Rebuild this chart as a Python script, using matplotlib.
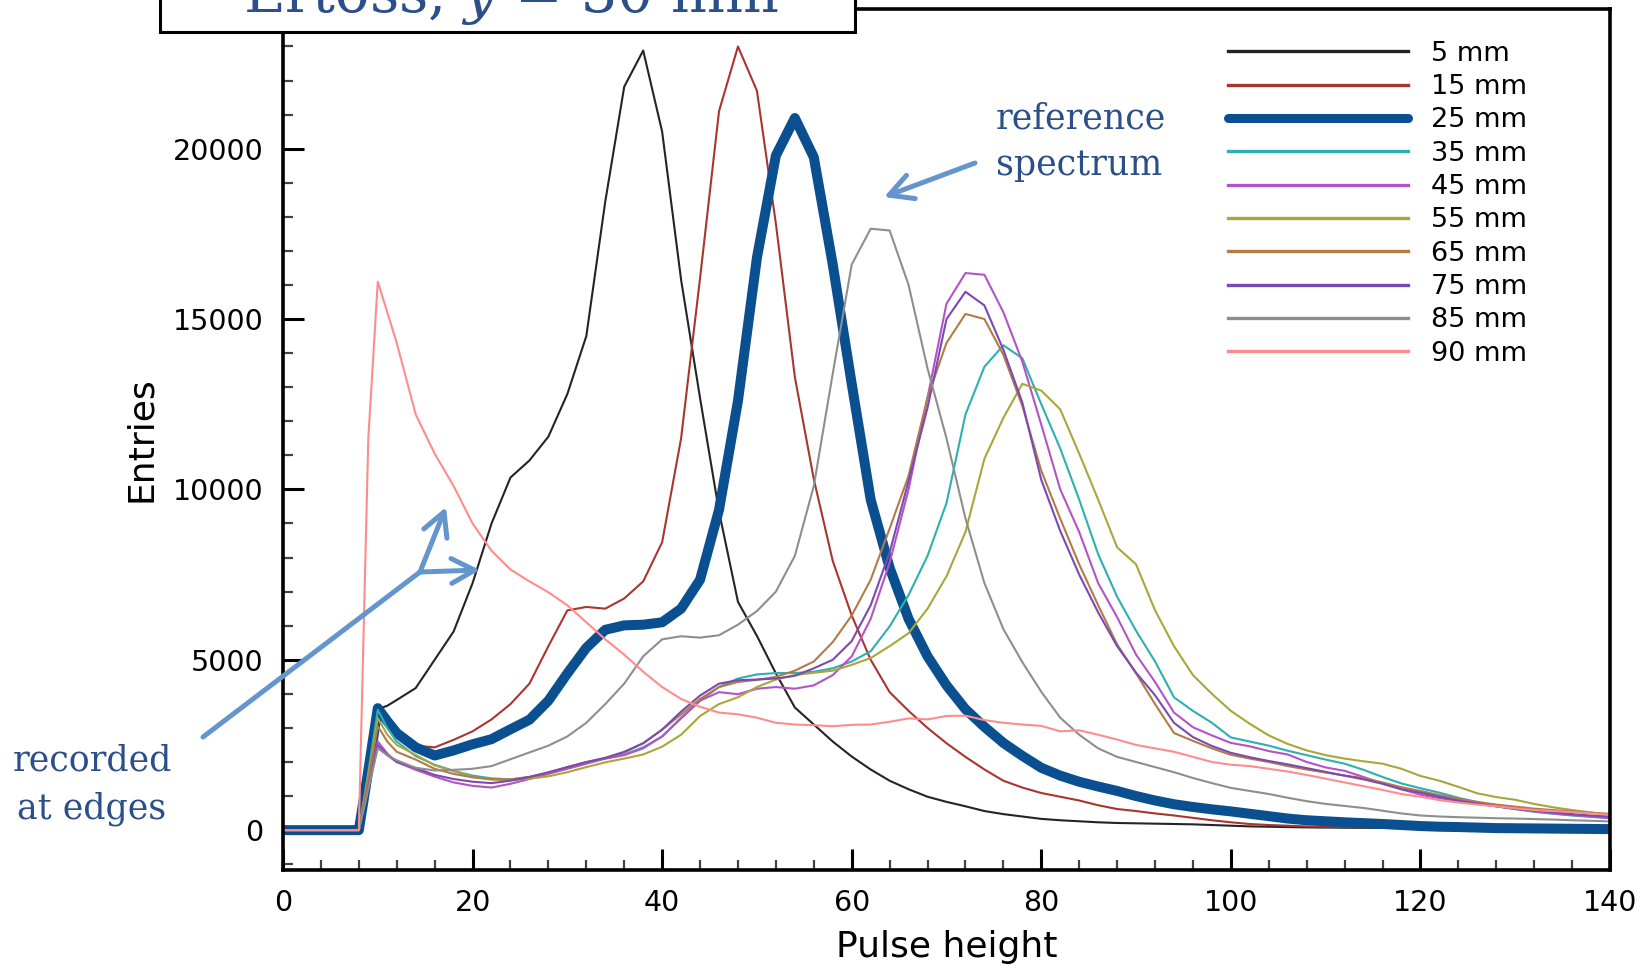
import numpy as np
import matplotlib
matplotlib.use("Agg")
import matplotlib.pyplot as plt
from matplotlib.patches import Rectangle
from matplotlib.ticker import MultipleLocator

plt.rcParams['mathtext.fontset'] = 'dejavuserif'

# pulse-height bins (shared x grid)
pulse = [0, 8, 9, 10, 11] + list(range(12, 141, 2))

# entries per curve
counts_5mm = [0, 0, 1700, 3550, 3650,
              3820, 4170, 5000, 5830, 7250, 9000, 10350, 10850, 11550, 12800,
              14500, 18450, 21820, 22880, 20500, 16150, 12680, 9350, 6700, 5700,
              4600, 3600, 3100, 2600, 2160, 1780, 1450, 1200, 980, 830,
              700, 560, 470, 400, 330, 290, 260, 230, 210, 200,
              190, 180, 170, 150, 130, 110, 100, 90, 80, 75,
              70, 68, 65, 62, 60, 57, 55, 52, 50, 48,
              45, 42, 40, 38, 35]
counts_15mm = [0, 0, 1650, 3400, 3100,
               2850, 2480, 2430, 2650, 2900, 3250, 3700, 4300, 5400, 6450,
               6550, 6500, 6800, 7300, 8450, 11500, 16200, 21100, 23000, 21700,
               17800, 13300, 10300, 7900, 6300, 5000, 4050, 3500, 3000, 2550,
               2150, 1780, 1450, 1250, 1090, 980, 870, 730, 620, 560,
               490, 430, 360, 290, 230, 180, 150, 130, 110, 100,
               95, 90, 85, 80, 75, 70, 65, 60, 55, 50,
               48, 45, 42, 40, 38]
counts_25mm = [0, 0, 1750, 3580, 3200,
               2850, 2430, 2190, 2340, 2520, 2670, 2960, 3240, 3800, 4600,
               5350, 5880, 6010, 6030, 6100, 6500, 7350, 9400, 12600, 16800,
               19800, 20900, 19750, 16600, 13100, 9700, 7700, 6200, 5100, 4250,
               3550, 3030, 2560, 2180, 1830, 1600, 1420, 1280, 1150, 1000,
               870, 760, 680, 610, 550, 480, 410, 340, 290, 260,
               230, 205, 180, 150, 120, 100, 90, 75, 60, 55,
               50, 45, 40, 35, 30]
counts_35mm = [0, 0, 1700, 3530, 3000,
               2600, 2170, 1920, 1740, 1600, 1520, 1490, 1560, 1670, 1820,
               1980, 2100, 2220, 2430, 2750, 3300, 3800, 4200, 4450, 4570,
               4610, 4610, 4650, 4750, 4950, 5250, 5980, 6900, 8050, 9600,
               12200, 13600, 14230, 13850, 12500, 11200, 9700, 8100, 6850, 5850,
               4950, 3900, 3500, 3150, 2720, 2600, 2480, 2330, 2200, 2070,
               1950, 1770, 1560, 1370, 1230, 1100, 950, 820, 700, 620,
               540, 480, 430, 390, 350]
counts_45mm = [0, 0, 1300, 2600, 2250,
               2000, 1770, 1570, 1400, 1300, 1250, 1360, 1500, 1650, 1800,
               1950, 2100, 2200, 2400, 2750, 3280, 3800, 4050, 3990, 4150,
               4200, 4150, 4250, 4550, 5100, 6200, 7850, 10000, 12700, 15450,
               16350, 16300, 15200, 13750, 11900, 10000, 8750, 7250, 6250, 5150,
               4350, 3450, 3020, 2780, 2560, 2460, 2320, 2220, 2000, 1840,
               1740, 1560, 1370, 1200, 1040, 940, 850, 770, 700, 620,
               550, 490, 440, 400, 350]
counts_55mm = [0, 0, 1600, 3290, 2800,
               2500, 2210, 1900, 1730, 1560, 1480, 1470, 1510, 1580, 1700,
               1850, 1990, 2100, 2220, 2450, 2800, 3350, 3700, 3900, 4200,
               4420, 4550, 4620, 4680, 4850, 5050, 5400, 5780, 6500, 7450,
               8750, 10900, 12100, 13100, 12900, 12350, 11050, 9700, 8300, 7800,
               6450, 5400, 4550, 4000, 3500, 3120, 2780, 2530, 2340, 2200,
               2100, 2020, 1950, 1800, 1590, 1450, 1270, 1080, 970, 890,
               770, 670, 590, 520, 450]
counts_65mm = [0, 0, 1500, 3050, 2600,
               2300, 2070, 1800, 1650, 1550, 1500, 1490, 1560, 1680, 1850,
               1990, 2120, 2280, 2550, 2950, 3400, 3850, 4200, 4350, 4410,
               4500, 4680, 4950, 5520, 6300, 7350, 8850, 10400, 12700, 14300,
               15150, 15000, 13950, 12450, 10550, 9140, 7800, 6600, 5450, 4600,
               3700, 2850, 2620, 2400, 2210, 2100, 2000, 1880, 1780, 1690,
               1600, 1530, 1400, 1260, 1150, 1030, 920, 830, 750, 690,
               630, 590, 550, 510, 480]
counts_75mm = [0, 0, 1250, 2500, 2200,
               2000, 1820, 1620, 1500, 1420, 1380, 1450, 1560, 1700, 1850,
               2000, 2120, 2300, 2550, 2950, 3480, 3950, 4300, 4400, 4420,
               4450, 4530, 4750, 5000, 5550, 6600, 8150, 10250, 12400, 15000,
               15800, 15400, 14100, 12550, 10280, 8780, 7500, 6390, 5400, 4620,
               3960, 3150, 2730, 2470, 2270, 2140, 2030, 1930, 1820, 1710,
               1600, 1490, 1360, 1200, 1100, 980, 870, 780, 700, 630,
               580, 530, 470, 430, 400]
counts_85mm = [0, 0, 1200, 2400, 2200,
               2050, 1830, 1750, 1770, 1800, 1880, 2080, 2280, 2480, 2750,
               3150, 3700, 4300, 5100, 5600, 5690, 5650, 5720, 6030, 6430,
               7000, 8050, 10100, 13400, 16600, 17650, 17600, 16000, 13550, 11500,
               9150, 7250, 5900, 4930, 4060, 3300, 2800, 2400, 2150, 2000,
               1850, 1700, 1530, 1380, 1240, 1150, 1060, 950, 850, 770,
               710, 650, 570, 490, 430, 400, 380, 365, 350, 340,
               325, 310, 290, 275, 255]
counts_90mm = [0, 0, 11500, 16100, 15200,
               14300, 12200, 11050, 10100, 9000, 8200, 7650, 7300, 6980, 6600,
               6100, 5600, 5150, 4650, 4200, 3850, 3620, 3450, 3400, 3300,
               3150, 3100, 3080, 3050, 3090, 3100, 3180, 3280, 3250, 3350,
               3360, 3230, 3150, 3100, 3060, 2900, 2930, 2800, 2660, 2500,
               2400, 2300, 2150, 2000, 1920, 1880, 1800, 1720, 1620, 1510,
               1400, 1290, 1180, 1060, 980, 880, 810, 750, 700, 640,
               590, 560, 530, 490, 450]

labels = ['5 mm', '15 mm', '25 mm', '35 mm', '45 mm',
          '55 mm', '65 mm', '75 mm', '85 mm', '90 mm']
series = [counts_5mm, counts_15mm, counts_25mm, counts_35mm, counts_45mm,
          counts_55mm, counts_65mm, counts_75mm, counts_85mm, counts_90mm]
colors = ['#242424', '#a8362f', '#0a4f90', '#2db0b0', '#b454c4',
          '#a9a63c', '#b47a48', '#7a4ab2', '#8e8e8e', '#ff8c8c']

W, H = 1641, 971
fig = plt.figure(figsize=(W / 100, H / 100), dpi=100)
ax = fig.add_axes([283 / W, 101 / H, 1327 / W, 861 / H])

for y, lab, c in zip(series, labels, colors):
    lw = 7.2 if lab == '25 mm' else 1.5
    ax.plot(pulse, y, color=c, lw=lw, label=lab, solid_joinstyle='round')

ax.set_xlim(0, 140)
ax.set_ylim(-1170, 24100)
ax.xaxis.set_major_locator(MultipleLocator(20))
ax.xaxis.set_minor_locator(MultipleLocator(4))
ax.yaxis.set_major_locator(MultipleLocator(5000))
ax.yaxis.set_minor_locator(MultipleLocator(1000))
ax.tick_params(which='both', direction='in', top=False, right=False)
ax.tick_params(which='major', length=15, width=2.2, labelsize=20.5, pad=14)
ax.tick_params(which='minor', length=7.5, width=1.6, color='#444444')
for s in ax.spines.values():
    s.set_linewidth(2.6)

ax.set_xlabel('Pulse height', fontsize=26, labelpad=9)
ax.set_ylabel('Entries', fontsize=26, labelpad=11)

leg = ax.legend(loc='upper left', bbox_to_anchor=(0.712, 0.963), frameon=False,
                fontsize=19.5, handlelength=6.65, handletextpad=0.85,
                labelspacing=0.27, borderpad=0, borderaxespad=0)
for h in leg.get_lines():
    if h.get_linewidth() < 2:
        h.set_linewidth(2.4)
    else:
        h.set_linewidth(6.5)
        h.set_solid_capstyle('round')

# ---- annotations (figure pixel positions, y measured from top) ----
def fp(x, y):
    return (x / W, 1 - y / H)

navy = '#2b4f88'
arrow_c = '#6496cd'
serif = 'DejaVu Serif'

box = Rectangle(fp(160, 32), (855 - 160) / W, 0.2, transform=fig.transFigure,
                facecolor='white', edgecolor='black', lw=2.2, zorder=5)
fig.add_artist(box)
fig.text(*fp(511, 11.7), 'Ertoss, $y$ = 30 mm', ha='center', va='baseline',
         fontsize=41, family=serif, color=navy, zorder=6)

fig.text(*fp(996, 128), 'reference', ha='left', va='baseline',
         fontsize=25, family=serif, color=navy)
fig.text(*fp(996, 175), 'spectrum', ha='left', va='baseline',
         fontsize=25, family=serif, color=navy)
fig.text(*fp(92, 770), 'recorded', ha='center', va='baseline',
         fontsize=25, family=serif, color=navy)
fig.text(*fp(92, 818), 'at edges', ha='center', va='baseline',
         fontsize=25, family=serif, color=navy)

head = '->,head_length=0.6,head_width=0.32'
ax.annotate('', xy=fp(884, 197), xytext=fp(975, 163), xycoords='figure fraction',
            textcoords='figure fraction', annotation_clip=False,
            arrowprops=dict(arrowstyle=head, lw=3.6, color=arrow_c,
                            mutation_scale=28, shrinkA=0, shrinkB=0))
ax.annotate('', xy=fp(420, 572), xytext=fp(203, 737), xycoords='figure fraction',
            textcoords='figure fraction', annotation_clip=False,
            arrowprops=dict(arrowstyle='-', lw=3.6, color=arrow_c,
                            shrinkA=0, shrinkB=0))
for tip in [(446, 507), (480, 570)]:
    ax.annotate('', xy=fp(*tip), xytext=fp(420, 572), xycoords='figure fraction',
                textcoords='figure fraction', annotation_clip=False,
                arrowprops=dict(arrowstyle=head, lw=3.6, color=arrow_c,
                                mutation_scale=28, shrinkA=0, shrinkB=0))

fig.savefig('out.png', dpi=100)
